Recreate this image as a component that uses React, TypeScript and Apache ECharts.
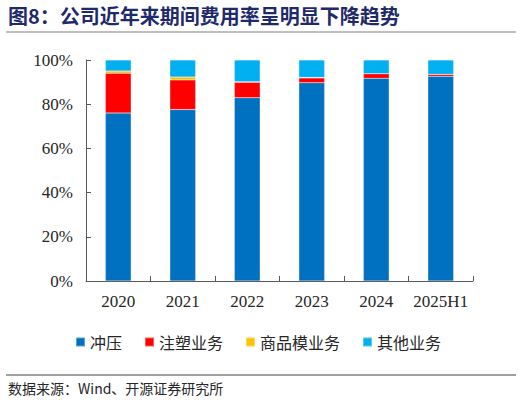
import React, { useEffect, useRef } from "react";
import * as echarts from "echarts";

const categories = ["2020", "2021", "2022", "2023", "2024", "2025H1"];
const stamping = [76.0, 77.6, 82.9, 89.7, 91.7, 92.6];
const injection = [18.0, 13.4, 7.0, 2.2, 2.1, 0.9];
const commercialMold = [1.0, 1.3, 0.3, 0.2, 0.0, 0.0];
const others = [5.0, 7.7, 9.8, 7.9, 6.2, 6.5];
const seriesNames = ["冲压", "注塑业务", "商品模业务", "其他业务"];
const colors = ["#0070C0", "#FF0000", "#FFC000", "#00B0F0"];

const titleText = "图8：公司近年来期间费用率呈明显下降趋势";
const sourceText = "数据来源：Wind、开源证券研究所";

const serif = "Liberation Serif, Noto Sans CJK SC, serif";
const cjk = "Noto Sans CJK SC, sans-serif";

export default function App() {
  const ref = useRef<HTMLDivElement>(null);
  useEffect(() => {
    if (!ref.current) return;
    const chart = echarts.init(ref.current, null, { renderer: "svg" });
    const data = [stamping, injection, commercialMold, others];
    chart.setOption({
      animation: false,
      backgroundColor: "#ffffff",
      grid: { left: 86, right: 49, top: 60, bottom: 124, containLabel: false },
      legend: {
        left: 70,
        top: 329,
        icon: "rect",
        itemWidth: 9,
        itemHeight: 9,
        itemGap: 22,
        textStyle: { fontSize: 16, color: "#262626", fontFamily: cjk },
        data: seriesNames,
      },
      xAxis: {
        type: "category",
        data: categories,
        axisLine: { lineStyle: { color: "#595959", width: 1 } },
        axisTick: { show: true, inside: true, length: 5, alignWithLabel: false, lineStyle: { color: "#595959" } },
        axisLabel: { interval: 0, fontSize: 17, color: "#262626", fontFamily: serif, margin: 12 },
      },
      yAxis: {
        type: "value",
        min: 0,
        max: 100,
        interval: 20,
        splitLine: { show: false },
        axisLine: { show: true, lineStyle: { color: "#595959", width: 1 } },
        axisTick: { show: true, inside: true, length: 5, lineStyle: { color: "#595959" } },
        axisLabel: { fontSize: 17, color: "#262626", fontFamily: serif, formatter: "{value}%", margin: 13 },
      },
      series: seriesNames.map((name, i) => ({
        name,
        type: "bar",
        stack: "total",
        barWidth: "40%",
        data: data[i],
        itemStyle: { color: colors[i], borderColor: "rgba(255,255,255,0.35)", borderWidth: 0.5 },
      })),
      graphic: [
        {
          type: "text",
          left: 8,
          top: 5,
          style: {
            text: titleText,
            fontSize: 20,
            fontWeight: "bold",
            fill: "#1F2A6B",
            fontFamily: cjk,
          },
        },
        {
          type: "line",
          shape: { x1: 6, y1: 32, x2: 516, y2: 32 },
          style: { stroke: "#7F7F7F", lineWidth: 1.2 },
        },
        {
          type: "line",
          shape: { x1: 6, y1: 375, x2: 516, y2: 375 },
          style: { stroke: "#404040", lineWidth: 1 },
        },
        {
          type: "text",
          left: 8,
          top: 381,
          style: {
            text: sourceText,
            fontSize: 14,
            fill: "#262626",
            fontFamily: cjk,
          },
        },
      ],
    });
    return () => chart.dispose();
  }, []);
  return <div ref={ref} style={{ width: 522, height: 405, position: "absolute", left: 0, top: 0 }} />;
}
